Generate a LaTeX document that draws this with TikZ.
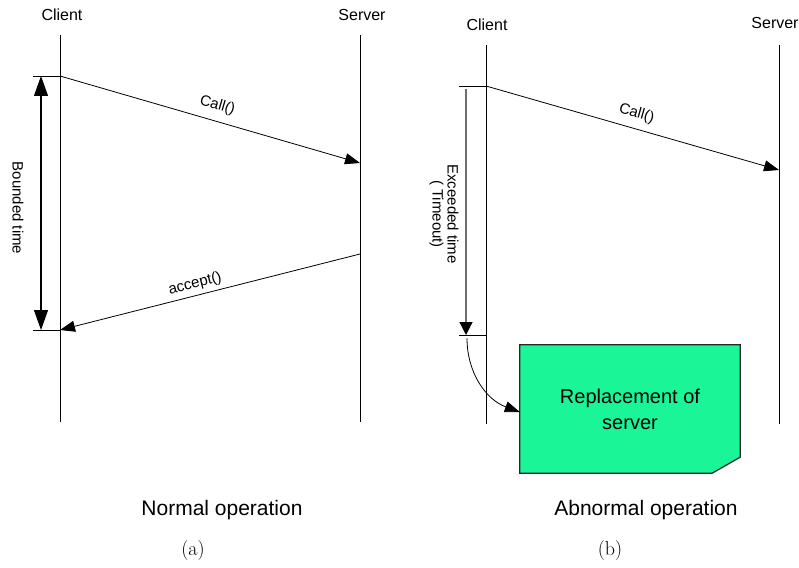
\documentclass[tikz,border=0pt]{standalone}
\usepackage{fontspec}
\newfontfamily\diagfont{Liberation Sans}
\usetikzlibrary{arrows.meta, positioning, backgrounds}
\definecolor{replgreen}{RGB}{26,245,152}
\definecolor{timergray}{RGB}{110,110,110}

\begin{document}
\begin{tikzpicture}[x=1pt, y=-1pt,
  actor/.style={font=\diagfont\fontsize{16}{19}\selectfont},
  msg/.style={-{Triangle[length=15pt,width=11pt]}, line width=0.8pt},
  msglabel/.style={font=\diagfont\fontsize{15}{17}\selectfont, sloped},
  lifeline/.style={line width=0.8pt},
  bound/.style={{Triangle[length=20pt,width=14pt]}-{Triangle[length=20pt,width=14pt]}, line width=1.2pt},
  timer/.style={-{Triangle[length=13pt,width=13pt,black]}, draw=timergray, line width=1.2pt},
  span/.style={font=\diagfont\fontsize{15}{15}\selectfont, rotate=-90, align=center},
  replbox/.style={font=\diagfont\fontsize{20}{26}\selectfont, align=center, minimum width=220pt, minimum height=128pt},
  caption/.style={font=\diagfont\fontsize{21}{24}\selectfont},
  sublabel/.style={font=\fontsize{20}{24}\selectfont}
  ]
  \useasboundingbox (0,0) rectangle (799,567);

  % (a) normal operation
  \node[actor] (client1) at (62,15) {Client};
  \node[actor] (server1) at (362,15) {Server};
  \coordinate (c1top) at (60,35);  \coordinate (c1bot) at (60,422);
  \coordinate (s1top) at (360,35); \coordinate (s1bot) at (360,422);
  \draw[lifeline] (c1top) -- (c1bot);
  \draw[lifeline] (s1top) -- (s1bot);
  \coordinate (c1call) at (60,76);  \coordinate (s1call) at (360,163);
  \coordinate (s1acc) at (360,254); \coordinate (c1acc) at (60,330);
  \draw[msg] (c1call) -- node[msglabel, above=5pt, pos=0.51] {Call()} (s1call);
  \draw[msg] (s1acc) -- node[msglabel, above=1pt, pos=0.54] {accept()} (c1acc);
  \draw[lifeline] (c1call) -- ++(-27,0) coordinate (t1top);
  \draw[lifeline] (c1acc) -- ++(-27,0) coordinate (t1bot);
  \coordinate (b1top) at (41,76); \coordinate (b1bot) at (41,330);
  \draw[bound] (b1top) -- (b1bot);
  \node[span] (bounded) at (18,208) {Bounded time};
  \node[caption] (normal) at (222,510) {Normal operation};
  \node[sublabel] (suba) at (193,551) {(a)};

  % (b) abnormal operation
  \node[actor] (client2) at (487,25) {Client};
  \node[actor] (server2) at (775,23) {Server};
  \coordinate (c2top) at (486,45);  \coordinate (c2bot) at (486,424);
  \coordinate (s2top) at (779,45);  \coordinate (s2bot) at (779,424);
  \draw[lifeline] (c2top) -- (c2bot);
  \draw[lifeline] (s2top) -- (s2bot);
  \coordinate (c2call) at (486,86); \coordinate (s2call) at (779,170);
  \draw[msg] (c2call) -- node[msglabel, above=4pt, pos=0.5] {Call()} (s2call);
  \draw[lifeline] (c2call) -- ++(-27,0) coordinate (t2top);
  \coordinate (c2out) at (486,335);
  \draw[lifeline] (c2out) -- ++(-27,0) coordinate (t2bot);
  \coordinate (w2top) at (466,89); \coordinate (w2bot) at (466,335);
  \draw[timer] (w2top) -- (w2bot);
  \node[span] (exceeded) at (444,214) {Exceeded time\\( Timeout)};
  \node[replbox] (repl) at (630,409) {Replacement of\\server};
  \begin{scope}[on background layer]
    \filldraw[fill=replgreen, draw=black!85, line width=1.2pt]
      (repl.north west) -- (repl.north east) -- ([yshift=16pt]repl.south east)
      -- ([xshift=-28pt]repl.south east) -- (repl.south west) -- cycle;
  \end{scope}
  \coordinate (w2start) at (467,338);
  \draw[msg] (w2start) to[out=-90, in=160] ([yshift=-3pt]repl.west);
  \node[caption] (abnormal) at (646,510) {Abnormal operation};
  \node[sublabel] (subb) at (610,551) {(b)};
\end{tikzpicture}
\end{document}
